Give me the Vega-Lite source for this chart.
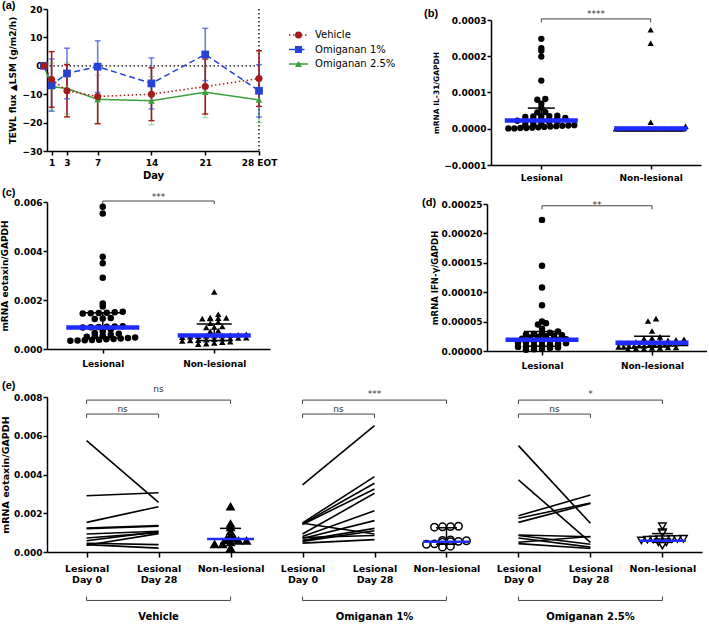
{
 "$schema": "https://vega.github.io/schema/vega-lite/v6.json",
 "padding": 0,
 "background": "white",
 "spacing": 9,
 "resolve": {"scale": {"shape": "independent", "fill": "independent", "stroke": "independent", "color": "independent", "opacity": "independent", "strokeDash": "independent"}},
 "config": {
  "view": {"stroke": null},
  "axis": {"grid": false, "domainColor": "black", "domainWidth": 1.5, "tickColor": "black", "tickWidth": 1.5, "tickSize": 4, "labelFont": "DejaVu Sans", "labelFontWeight": "bold", "labelFontSize": 9, "labelColor": "black", "titleFont": "DejaVu Sans", "titleFontWeight": "bold", "titleColor": "black", "labelOverlap": false, "labelFlush": false, "tickCount": 20},
  "title": {"font": "Liberation Sans", "fontSize": 11, "fontWeight": "bold", "color": "black", "anchor": "start", "frame": "group"},
  "text": {"font": "DejaVu Sans"}
 },
 "datasets": {
  "tewl": [
   {"grp":"Omiganan 1%","day":0,"mean":0,"lo":0,"hi":0},
   {"grp":"Omiganan 1%","day":1,"mean":-6.8,"lo":-16.0,"hi":2.4},
   {"grp":"Omiganan 1%","day":3,"mean":-2.7,"lo":-11.6,"hi":6.2},
   {"grp":"Omiganan 1%","day":7,"mean":-0.3,"lo":-9.4,"hi":8.8},
   {"grp":"Omiganan 1%","day":14,"mean":-6.2,"lo":-15.2,"hi":2.8},
   {"grp":"Omiganan 1%","day":21,"mean":4.0,"lo":-5.2,"hi":13.2},
   {"grp":"Omiganan 1%","day":28,"mean":-8.8,"lo":-18.0,"hi":0.4},
   {"grp":"Omiganan 2.5%","day":0,"mean":0,"lo":0,"hi":0},
   {"grp":"Omiganan 2.5%","day":1,"mean":-7.3,"lo":-15.6,"hi":1.0},
   {"grp":"Omiganan 2.5%","day":3,"mean":-8.0,"lo":-17.0,"hi":1.0},
   {"grp":"Omiganan 2.5%","day":7,"mean":-11.8,"lo":-20.3,"hi":-3.3},
   {"grp":"Omiganan 2.5%","day":14,"mean":-12.3,"lo":-20.8,"hi":-3.8},
   {"grp":"Omiganan 2.5%","day":21,"mean":-9.3,"lo":-18.2,"hi":-0.4},
   {"grp":"Omiganan 2.5%","day":28,"mean":-12.0,"lo":-20.0,"hi":-4.0},
   {"grp":"Vehicle","day":0,"mean":0,"lo":0,"hi":0},
   {"grp":"Vehicle","day":1,"mean":-4.8,"lo":-14.6,"hi":5.0},
   {"grp":"Vehicle","day":3,"mean":-8.8,"lo":-18.0,"hi":0.4},
   {"grp":"Vehicle","day":7,"mean":-10.8,"lo":-20.4,"hi":-1.2},
   {"grp":"Vehicle","day":14,"mean":-10.0,"lo":-19.3,"hi":-0.7},
   {"grp":"Vehicle","day":21,"mean":-7.3,"lo":-17.0,"hi":2.4},
   {"grp":"Vehicle","day":28,"mean":-4.5,"lo":-14.3,"hi":5.3}
  ],
  "il31": [
   {"g":"Lesional","v":0.000248},{"g":"Lesional","v":0.000222},{"g":"Lesional","v":0.000215},{"g":"Lesional","v":0.000199},{"g":"Lesional","v":0.000133},
   {"g":"Lesional","v":0.000082},{"g":"Lesional","v":0.00008},{"g":"Lesional","v":0.000069},{"g":"Lesional","v":0.000058},{"g":"Lesional","v":0.000046},
   {"g":"Lesional","v":0.000045},{"g":"Lesional","v":0.000036},{"g":"Lesional","v":0.000035},{"g":"Lesional","v":0.000034},{"g":"Lesional","v":0.000033},
   {"g":"Lesional","v":0.000034},{"g":"Lesional","v":0.00003},{"g":"Lesional","v":0.000028},{"g":"Lesional","v":0.000026},{"g":"Lesional","v":0.000025},
   {"g":"Lesional","v":0.000024},{"g":"Lesional","v":0.000023},{"g":"Lesional","v":0.000022},{"g":"Lesional","v":0.00002},{"g":"Lesional","v":0.000018},
   {"g":"Lesional","v":0.000016},{"g":"Lesional","v":0.000014},{"g":"Lesional","v":0.000012},{"g":"Lesional","v":0.00001},{"g":"Lesional","v":0.000009},
   {"g":"Lesional","v":0.000008},{"g":"Lesional","v":0.000007},{"g":"Lesional","v":0.000006},{"g":"Lesional","v":0.000005},{"g":"Lesional","v":0.000004},
   {"g":"Lesional","v":0.000003},{"g":"Lesional","v":0.000002},{"g":"Lesional","v":0.000002},{"g":"Lesional","v":0.000001},{"g":"Lesional","v":0.000001},
   {"g":"Non-lesional","v":0.000273},{"g":"Non-lesional","v":0.000236},{"g":"Non-lesional","v":0.000018},{"g":"Non-lesional","v":0.000007},
   {"g":"Non-lesional","v":0},{"g":"Non-lesional","v":0},{"g":"Non-lesional","v":0},{"g":"Non-lesional","v":0},{"g":"Non-lesional","v":0},
   {"g":"Non-lesional","v":0},{"g":"Non-lesional","v":0},{"g":"Non-lesional","v":0},{"g":"Non-lesional","v":0},{"g":"Non-lesional","v":0},
   {"g":"Non-lesional","v":0},{"g":"Non-lesional","v":0},{"g":"Non-lesional","v":0},{"g":"Non-lesional","v":0},{"g":"Non-lesional","v":0},
   {"g":"Non-lesional","v":0},{"g":"Non-lesional","v":0},{"g":"Non-lesional","v":0},{"g":"Non-lesional","v":0},{"g":"Non-lesional","v":0},
   {"g":"Non-lesional","v":0},{"g":"Non-lesional","v":0},{"g":"Non-lesional","v":0},{"g":"Non-lesional","v":0},{"g":"Non-lesional","v":0},
   {"g":"Non-lesional","v":0},{"g":"Non-lesional","v":0},{"g":"Non-lesional","v":0},{"g":"Non-lesional","v":0},{"g":"Non-lesional","v":0}
  ],
  "il31s": [
   {"g":"Lesional","med":0.000023,"lo":0.000006,"hi":0.000057},
   {"g":"Non-lesional","med":0.0000005,"lo":0,"hi":0.000001}
  ],
  "eot": [
   {"g":"Lesional","v":0.00581},{"g":"Lesional","v":0.00553},{"g":"Lesional","v":0.00377},{"g":"Lesional","v":0.0035},{"g":"Lesional","v":0.00291},
   {"g":"Lesional","v":0.00186},{"g":"Lesional","v":0.00173},{"g":"Lesional","v":0.00152},{"g":"Lesional","v":0.0015},{"g":"Lesional","v":0.00148},
   {"g":"Lesional","v":0.00147},{"g":"Lesional","v":0.00146},{"g":"Lesional","v":0.00145},{"g":"Lesional","v":0.00127},{"g":"Lesional","v":0.00125},
   {"g":"Lesional","v":0.00122},{"g":"Lesional","v":0.00093},{"g":"Lesional","v":0.00092},{"g":"Lesional","v":0.00091},{"g":"Lesional","v":0.0009},
   {"g":"Lesional","v":0.00089},{"g":"Lesional","v":0.00088},{"g":"Lesional","v":0.00079},{"g":"Lesional","v":0.00072},{"g":"Lesional","v":0.00065},
   {"g":"Lesional","v":0.00062},{"g":"Lesional","v":0.00058},{"g":"Lesional","v":0.00055},{"g":"Lesional","v":0.00052},{"g":"Lesional","v":0.0005},
   {"g":"Lesional","v":0.00047},{"g":"Lesional","v":0.00045},{"g":"Lesional","v":0.00043},{"g":"Lesional","v":0.00041},{"g":"Lesional","v":0.0004},
   {"g":"Lesional","v":0.00038},{"g":"Lesional","v":0.00037},{"g":"Lesional","v":0.00036},{"g":"Lesional","v":0.00035},{"g":"Lesional","v":0.00034},
   {"g":"Non-lesional","v":0.00233},{"g":"Non-lesional","v":0.00142},{"g":"Non-lesional","v":0.00128},{"g":"Non-lesional","v":0.00127},{"g":"Non-lesional","v":0.00126},
   {"g":"Non-lesional","v":0.00125},{"g":"Non-lesional","v":0.00124},{"g":"Non-lesional","v":0.0011},{"g":"Non-lesional","v":0.00105},{"g":"Non-lesional","v":0.00092},
   {"g":"Non-lesional","v":0.0009},{"g":"Non-lesional","v":0.00088},{"g":"Non-lesional","v":0.00075},{"g":"Non-lesional","v":0.00072},{"g":"Non-lesional","v":0.0006},
   {"g":"Non-lesional","v":0.00058},{"g":"Non-lesional","v":0.00056},{"g":"Non-lesional","v":0.00055},{"g":"Non-lesional","v":0.00054},{"g":"Non-lesional","v":0.00053},
   {"g":"Non-lesional","v":0.00052},{"g":"Non-lesional","v":0.0005},{"g":"Non-lesional","v":0.00048},{"g":"Non-lesional","v":0.00046},{"g":"Non-lesional","v":0.00045},
   {"g":"Non-lesional","v":0.00043},{"g":"Non-lesional","v":0.00042},{"g":"Non-lesional","v":0.0004},{"g":"Non-lesional","v":0.00038},{"g":"Non-lesional","v":0.00036},
   {"g":"Non-lesional","v":0.00035},{"g":"Non-lesional","v":0.00033},{"g":"Non-lesional","v":0.0003},{"g":"Non-lesional","v":0.00028},{"g":"Non-lesional","v":0.00025},
   {"g":"Non-lesional","v":0.00022},{"g":"Non-lesional","v":0.0002}
  ],
  "eots": [
   {"g":"Lesional","med":0.00088,"lo":0.00045,"hi":0.00148},
   {"g":"Non-lesional","med":0.00055,"lo":0.00035,"hi":0.00102}
  ],
  "ifn": [
   {"g":"Lesional","v":0.000223},{"g":"Lesional","v":0.000145},{"g":"Lesional","v":0.000108},{"g":"Lesional","v":0.000078},{"g":"Lesional","v":0.00005},
   {"g":"Lesional","v":0.000047},{"g":"Lesional","v":0.000045},{"g":"Lesional","v":0.000038},{"g":"Lesional","v":0.000033},{"g":"Lesional","v":0.000031},
   {"g":"Lesional","v":0.00003},{"g":"Lesional","v":0.000029},{"g":"Lesional","v":0.000028},{"g":"Lesional","v":0.000027},{"g":"Lesional","v":0.000026},
   {"g":"Lesional","v":0.000025},{"g":"Lesional","v":0.000024},{"g":"Lesional","v":0.000023},{"g":"Lesional","v":0.000021},{"g":"Lesional","v":0.00002},
   {"g":"Lesional","v":0.000019},{"g":"Lesional","v":0.000018},{"g":"Lesional","v":0.000017},{"g":"Lesional","v":0.000016},{"g":"Lesional","v":0.000015},
   {"g":"Lesional","v":0.000014},{"g":"Lesional","v":0.000013},{"g":"Lesional","v":0.000012},{"g":"Lesional","v":0.000011},{"g":"Lesional","v":0.00001},
   {"g":"Lesional","v":0.000009},{"g":"Lesional","v":0.000008},{"g":"Lesional","v":0.000007},{"g":"Lesional","v":0.000006},{"g":"Lesional","v":0.000005},
   {"g":"Lesional","v":0.000004},{"g":"Lesional","v":0.000003},{"g":"Lesional","v":0.000002},
   {"g":"Non-lesional","v":0.000055},{"g":"Non-lesional","v":0.000051},{"g":"Non-lesional","v":0.000034},{"g":"Non-lesional","v":0.000024},{"g":"Non-lesional","v":0.000022},
   {"g":"Non-lesional","v":0.000021},{"g":"Non-lesional","v":0.00002},{"g":"Non-lesional","v":0.000019},{"g":"Non-lesional","v":0.000018},{"g":"Non-lesional","v":0.000017},
   {"g":"Non-lesional","v":0.000016},{"g":"Non-lesional","v":0.000015},{"g":"Non-lesional","v":0.000015},{"g":"Non-lesional","v":0.000014},{"g":"Non-lesional","v":0.000014},
   {"g":"Non-lesional","v":0.000013},{"g":"Non-lesional","v":0.000013},{"g":"Non-lesional","v":0.000012},{"g":"Non-lesional","v":0.000012},{"g":"Non-lesional","v":0.000011},
   {"g":"Non-lesional","v":0.000011},{"g":"Non-lesional","v":0.00001},{"g":"Non-lesional","v":0.00001},{"g":"Non-lesional","v":0.000009},{"g":"Non-lesional","v":0.000009},
   {"g":"Non-lesional","v":0.000008},{"g":"Non-lesional","v":0.000008},{"g":"Non-lesional","v":0.000007},{"g":"Non-lesional","v":0.000007},{"g":"Non-lesional","v":0.000006},
   {"g":"Non-lesional","v":0.000006},{"g":"Non-lesional","v":0.000005},{"g":"Non-lesional","v":0.000005},{"g":"Non-lesional","v":0.000004},{"g":"Non-lesional","v":0.000004},
   {"g":"Non-lesional","v":0.000003}
  ],
  "ifns": [
   {"g":"Lesional","med":0.000019,"lo":0.000008,"hi":0.000033},
   {"g":"Non-lesional","med":0.000014,"lo":0.000007,"hi":0.000025}
  ],
  "elines": [
   {"pid":"v1","pos":"V0","v":0.00575},{"pid":"v1","pos":"V28","v":0.00256},
   {"pid":"v2","pos":"V0","v":0.0029},{"pid":"v2","pos":"V28","v":0.00306},
   {"pid":"v3","pos":"V0","v":0.00153},{"pid":"v3","pos":"V28","v":0.00234},
   {"pid":"v4","pos":"V0","v":0.00124},{"pid":"v4","pos":"V28","v":0.00136},
   {"pid":"v5","pos":"V0","v":0.0012},{"pid":"v5","pos":"V28","v":0.00133},
   {"pid":"v6","pos":"V0","v":0.00093},{"pid":"v6","pos":"V28","v":0.00107},
   {"pid":"v7","pos":"V0","v":0.00072},{"pid":"v7","pos":"V28","v":0.001},
   {"pid":"v8","pos":"V0","v":0.00058},{"pid":"v8","pos":"V28","v":0.00105},
   {"pid":"v9","pos":"V0","v":0.00045},{"pid":"v9","pos":"V28","v":0.00038},
   {"pid":"v10","pos":"V0","v":0.00038},{"pid":"v10","pos":"V28","v":0.0002},
   {"pid":"v11","pos":"V0","v":0.00035},{"pid":"v11","pos":"V28","v":0.00095},
   {"pid":"a1","pos":"O10","v":0.00346},{"pid":"a1","pos":"O128","v":0.00652},
   {"pid":"a2","pos":"O10","v":0.0015},{"pid":"a2","pos":"O128","v":0.00389},
   {"pid":"a3","pos":"O10","v":0.00145},{"pid":"a3","pos":"O128","v":0.00355},
   {"pid":"a4","pos":"O10","v":0.00142},{"pid":"a4","pos":"O128","v":0.00325},
   {"pid":"a5","pos":"O10","v":0.00093},{"pid":"a5","pos":"O128","v":0.00303},
   {"pid":"a6","pos":"O10","v":0.0008},{"pid":"a6","pos":"O128","v":0.00213},
   {"pid":"a7","pos":"O10","v":0.0007},{"pid":"a7","pos":"O128","v":0.00162},
   {"pid":"a8","pos":"O10","v":0.00148},{"pid":"a8","pos":"O128","v":0.00093},
   {"pid":"a9","pos":"O10","v":0.0006},{"pid":"a9","pos":"O128","v":0.00122},
   {"pid":"a10","pos":"O10","v":0.00055},{"pid":"a10","pos":"O128","v":0.0011},
   {"pid":"a11","pos":"O10","v":0.00046},{"pid":"a11","pos":"O128","v":0.00064},
   {"pid":"a12","pos":"O10","v":0.00075},{"pid":"a12","pos":"O128","v":0.00085},
   {"pid":"b1","pos":"O20","v":0.00549},{"pid":"b1","pos":"O228","v":0.00148},
   {"pid":"b2","pos":"O20","v":0.00372},{"pid":"b2","pos":"O228","v":0.0005},
   {"pid":"b3","pos":"O20","v":0.00187},{"pid":"b3","pos":"O228","v":0.00294},
   {"pid":"b4","pos":"O20","v":0.00174},{"pid":"b4","pos":"O228","v":0.00253},
   {"pid":"b5","pos":"O20","v":0.00153},{"pid":"b5","pos":"O228","v":0.0025},
   {"pid":"b6","pos":"O20","v":0.00088},{"pid":"b6","pos":"O228","v":0.00079},
   {"pid":"b7","pos":"O20","v":0.00085},{"pid":"b7","pos":"O228","v":0.0004},
   {"pid":"b8","pos":"O20","v":0.00072},{"pid":"b8","pos":"O228","v":0.00025},
   {"pid":"b9","pos":"O20","v":0.0005},{"pid":"b9","pos":"O228","v":0.0008},
   {"pid":"b10","pos":"O20","v":0.00043},{"pid":"b10","pos":"O228","v":0.00018}
  ],
  "enl": [
   {"pos":"VN","v":0.00234},{"pos":"VN","v":0.00145},{"pos":"VN","v":0.00127},{"pos":"VN","v":0.00105},{"pos":"VN","v":0.00084},
   {"pos":"VN","v":0.0007},{"pos":"VN","v":0.00067},{"pos":"VN","v":0.00058},{"pos":"VN","v":0.00058},{"pos":"VN","v":0.0005},
   {"pos":"VN","v":0.0004},{"pos":"VN","v":0.0004},{"pos":"VN","v":0.0002},
   {"pos":"O1N","v":0.00133},{"pos":"O1N","v":0.00131},{"pos":"O1N","v":0.0013},{"pos":"O1N","v":0.00128},{"pos":"O1N","v":0.00062},
   {"pos":"O1N","v":0.0006},{"pos":"O1N","v":0.00058},{"pos":"O1N","v":0.00055},{"pos":"O1N","v":0.00053},{"pos":"O1N","v":0.0005},
   {"pos":"O1N","v":0.00042},{"pos":"O1N","v":0.0004},{"pos":"O1N","v":0.0003},{"pos":"O1N","v":0.00025},
   {"pos":"O2N","v":0.00133},{"pos":"O2N","v":0.00102},{"pos":"O2N","v":0.00097},{"pos":"O2N","v":0.00068},{"pos":"O2N","v":0.00067},
   {"pos":"O2N","v":0.00067},{"pos":"O2N","v":0.00066},{"pos":"O2N","v":0.00066},{"pos":"O2N","v":0.00065},{"pos":"O2N","v":0.00064},
   {"pos":"O2N","v":0.0006},{"pos":"O2N","v":0.0005},{"pos":"O2N","v":0.0005},{"pos":"O2N","v":0.00033}
  ],
  "enls": [
   {"pos":"VN","med":0.00067,"lo":0.00045,"hi":0.00122},
   {"pos":"O1N","med":0.00053,"lo":0.0004,"hi":0.00125},
   {"pos":"O2N","med":0.00058,"lo":0.0005,"hi":0.00095}
  ],
  "sigOuter": [
   {"from":"V0","to":"VN","mid":"V28","label":"ns"},
   {"from":"O10","to":"O1N","mid":"O128","label":"***"},
   {"from":"O20","to":"O2N","mid":"O228","label":"*"}
  ],
  "sigInner": [
   {"from":"V0","to":"V28","label":"ns"},
   {"from":"O10","to":"O128","label":"ns"},
   {"from":"O20","to":"O228","label":"ns"}
  ],
  "groups": [
   {"from":"V0","to":"VN","mid":"V28","label":"Vehicle"},
   {"from":"O10","to":"O1N","mid":"O128","label":"Omiganan 1%"},
   {"from":"O20","to":"O2N","mid":"O228","label":"Omiganan 2.5%"}
  ]
 },
 "vconcat": [
  {"spacing": 5,
   "resolve": {"scale": {"shape": "independent", "fill": "independent", "stroke": "independent", "color": "independent", "opacity": "independent", "strokeDash": "independent"}},
   "vconcat": [
   {"bounds": "flush", "spacing": 232,
    "resolve": {"scale": {"shape": "independent", "fill": "independent", "stroke": "independent", "color": "independent", "opacity": "independent", "strokeDash": "independent"}},
    "hconcat": [
    {
     "width": 212, "height": 142,
     "title": {"text": "(a)", "dx": -45, "offset": -6},
     "resolve": {"scale": {"x": "independent", "y": "independent"}},
     "layer": [
      {"layer": [
      {"data": {"values": [{}]}, "mark": {"type": "rule", "strokeDash": [1.5, 2.5], "color": "black", "strokeWidth": 1.3},
       "encoding": {"y": {"datum": 0, "type": "quantitative", "scale": {"domain": [-30, 20], "nice": false}}}},
      {"data": {"values": [{}]}, "mark": {"type": "rule", "strokeDash": [1.5, 2.5], "color": "black", "strokeWidth": 1.3},
       "encoding": {"x": {"datum": 28, "type": "quantitative", "scale": {"domain": [0.4, 28], "nice": false, "zero": false}}}},
      {"data": {"name": "tewl"}, "transform": [{"filter": "datum.day > 0"}], "mark": {"type": "rule", "strokeWidth": 1.6},
       "encoding": {
        "x": {"field": "day", "type": "quantitative", "title": "Day", "scale": {"domain": [0.4, 28], "nice": false, "zero": false}, "axis": {"values": [1,3,7,14,21,28], "tickCount": 20, "labelExpr": "datum.value == 28 ? '28 EOT' : datum.label", "title": "Day", "titleFontSize": 10, "labelPadding": 3, "titlePadding": 3, "labelOverlap": false, "labelFlush": false}},
        "y": {"field": "lo", "type": "quantitative", "title": "TEWL flux ▲LSM (g/m2/h)", "scale": {"domain": [-30, 20], "nice": false}, "axis": {"values": [-30,-20,-10,0,10,20], "tickCount": 20, "title": "TEWL flux ▲LSM (g/m2/h)", "titleFontSize": 9, "labelPadding": 1, "titlePadding": 4, "labelOverlap": false, "labelFlush": false}},
        "y2": {"field": "hi"},
        "color": {"field": "grp", "type": "nominal", "legend": null, "scale": {"domain": ["Vehicle","Omiganan 1%","Omiganan 2.5%"], "range": ["#a31c1c","#2643d6","#3b9f3b"]}},
        "opacity": {"field": "grp", "type": "nominal", "legend": null, "scale": {"domain": ["Vehicle","Omiganan 1%","Omiganan 2.5%"], "range": [1, 0.35, 0.35]}}
       }},
      {"data": {"name": "tewl"}, "transform": [{"filter": "datum.day > 0"}, {"fold": ["lo", "hi"], "as": ["end", "val"]}],
       "mark": {"type": "tick", "size": 6, "thickness": 1.4, "orient": "horizontal", "opacity": 1},
       "encoding": {
        "x": {"field": "day", "type": "quantitative", "title": "Day"},
        "y": {"field": "val", "type": "quantitative", "title": "TEWL flux ▲LSM (g/m2/h)"},
        "color": {"field": "grp", "type": "nominal", "legend": null},
        "opacity": {"field": "grp", "type": "nominal", "legend": null}
       }},
      {"data": {"name": "tewl"}, "mark": {"type": "line", "strokeWidth": 1.5},
       "encoding": {
        "x": {"field": "day", "type": "quantitative", "title": "Day"},
        "y": {"field": "mean", "type": "quantitative", "title": "TEWL flux ▲LSM (g/m2/h)"},
        "color": {"field": "grp", "type": "nominal", "legend": null},
        "strokeDash": {"field": "grp", "type": "nominal", "legend": null, "scale": {"domain": ["Vehicle","Omiganan 1%","Omiganan 2.5%"], "range": [[1.5, 2.5], [6, 3.5], [1, 0]]}},
        "order": {"field": "day", "type": "quantitative"}
       }},
      {"data": {"name": "tewl"}, "transform": [{"filter": "datum.grp == 'Omiganan 2.5%'"}],
       "mark": {"type": "point", "shape": "triangle-up", "filled": true, "size": 45, "opacity": 1, "color": "#3b9f3b"},
       "encoding": {"x": {"field": "day", "type": "quantitative", "title": "Day"}, "y": {"field": "mean", "type": "quantitative", "title": "TEWL flux ▲LSM (g/m2/h)"}}},
      {"data": {"name": "tewl"}, "transform": [{"filter": "datum.grp == 'Omiganan 1%'"}],
       "mark": {"type": "point", "shape": "square", "filled": true, "size": 60, "opacity": 1, "color": "#2643d6"},
       "encoding": {"x": {"field": "day", "type": "quantitative", "title": "Day"}, "y": {"field": "mean", "type": "quantitative", "title": "TEWL flux ▲LSM (g/m2/h)"}}},
      {"data": {"name": "tewl"}, "transform": [{"filter": "datum.grp == 'Vehicle'"}],
       "mark": {"type": "point", "shape": "circle", "filled": true, "size": 50, "opacity": 1, "color": "#a31c1c"},
       "encoding": {"x": {"field": "day", "type": "quantitative", "title": "Day"}, "y": {"field": "mean", "type": "quantitative", "title": "TEWL flux ▲LSM (g/m2/h)"}}}
      ]},
      {"data": {"name": "tewl"}, "transform": [{"filter": "datum.day == 0"}],
       "layer": [
        {"mark": {"type": "rule", "strokeWidth": 1.5},
         "encoding": {
          "x": {"datum": 0, "type": "quantitative", "scale": {"domain": [0, 1], "range": [242, 261]}, "axis": null},
          "x2": {"datum": 1},
          "y": {"field": "grp", "type": "nominal", "scale": {"type": "point", "domain": ["Vehicle","Omiganan 1%","Omiganan 2.5%"], "range": [26, 55], "padding": 0}, "axis": null},
          "color": {"field": "grp", "type": "nominal", "legend": null},
          "strokeDash": {"field": "grp", "type": "nominal", "legend": null}
         }},
        {"mark": {"type": "point", "filled": true, "opacity": 1, "size": 50},
         "encoding": {
          "x": {"datum": 0.5, "type": "quantitative"},
          "y": {"field": "grp", "type": "nominal"},
          "color": {"field": "grp", "type": "nominal", "legend": null},
          "shape": {"field": "grp", "type": "nominal", "legend": null, "scale": {"domain": ["Vehicle","Omiganan 1%","Omiganan 2.5%"], "range": ["circle","square","triangle-up"]}}
         }},
        {"mark": {"type": "text", "align": "left", "baseline": "middle", "font": "DejaVu Sans", "fontSize": 10, "color": "black"},
         "encoding": {
          "x": {"datum": 1.37, "type": "quantitative"},
          "y": {"field": "grp", "type": "nominal"},
          "text": {"field": "grp"}
         }}
       ]}
     ]
    },
    {
     "width": 210, "height": 156,
     "title": {"text": "(b)", "dx": -67, "offset": -10},
     "layer": [
      {"data": {"name": "il31"},
       "transform": [
        {"bin": {"step": 0.000011}, "field": "v", "as": "vb"},
        {"window": [{"op": "row_number", "as": "r"}], "groupby": ["g", "vb"], "sort": [{"field": "v", "order": "ascending"}]},
        {"joinaggregate": [{"op": "count", "as": "n"}], "groupby": ["g", "vb"]},
        {"calculate": "(datum.r - (datum.n + 1) / 2) * min(1, 9 / datum.n)", "as": "off"}
       ],
       "mark": {"type": "point", "filled": true, "opacity": 1, "color": "black", "size": 40},
       "encoding": {
        "x": {"field": "g", "type": "nominal", "title": null, "scale": {"type": "point", "domain": ["Lesional","Non-lesional"], "padding": 0.46}, "axis": {"labelFontSize": 9, "labelPadding": 4, "labelAngle": 0, "labelOverlap": false}},
        "xOffset": {"field": "off", "type": "quantitative", "scale": {"domain": [-10, 10], "range": [-80, 80]}},
        "y": {"field": "v", "type": "quantitative", "title": "mRNA IL-31/GAPDH", "scale": {"domain": [-0.0001, 0.0003], "nice": false, "zero": false, "range": [156, 11]}, "axis": {"values": [-0.0001, 0, 0.0001, 0.0002, 0.0003], "tickCount": 20, "format": ".4f", "title": "mRNA IL-31/GAPDH", "titleFontSize": 7.5, "titlePadding": 3, "labelPadding": 1, "labelOverlap": false, "labelFlush": false}},
        "shape": {"field": "g", "type": "nominal", "legend": null, "scale": {"domain": ["Lesional","Non-lesional"], "range": ["circle","triangle-up"]}}
       }},
      {"data": {"name": "il31s"}, "mark": {"type": "rule", "color": "black", "strokeWidth": 1.5},
       "encoding": {"x": {"field": "g", "type": "nominal", "title": null}, "y": {"field": "lo", "type": "quantitative", "title": "mRNA IL-31/GAPDH"}, "y2": {"field": "hi"}}},
      {"data": {"name": "il31s"}, "transform": [{"fold": ["lo", "hi"], "as": ["end", "val"]}], "mark": {"type": "tick", "color": "black", "thickness": 1.5, "size": 27, "opacity": 1, "orient": "horizontal"},
       "encoding": {"x": {"field": "g", "type": "nominal", "title": null}, "y": {"field": "val", "type": "quantitative", "title": "mRNA IL-31/GAPDH"}}},
      {"data": {"name": "il31s"}, "mark": {"type": "tick", "color": "#1f2bff", "thickness": 4.5, "size": 73, "opacity": 1, "orient": "horizontal"},
       "encoding": {"x": {"field": "g", "type": "nominal", "title": null}, "y": {"field": "med", "type": "quantitative", "title": "mRNA IL-31/GAPDH"}}},
      {"data": {"values": [{}]}, "mark": {"type": "rule", "color": "#444", "strokeWidth": 1},
       "encoding": {"x": {"datum": "Lesional", "type": "nominal"}, "x2": {"datum": "Non-lesional"}, "y": {"datum": 0.000303, "type": "quantitative"}}},
      {"data": {"values": [{"g": "Lesional"}, {"g": "Non-lesional"}]}, "mark": {"type": "rule", "color": "#444", "strokeWidth": 1},
       "encoding": {"x": {"field": "g", "type": "nominal", "title": null}, "y": {"datum": 0.000303, "type": "quantitative"}, "y2": {"datum": 0.000293}}},
      {"data": {"values": [{}]}, "mark": {"type": "text", "text": "****", "dx": 54.7, "fontSize": 9, "baseline": "alphabetic", "color": "#333"},
       "encoding": {"x": {"datum": "Lesional", "type": "nominal"}, "y": {"datum": 0.000307, "type": "quantitative"}}}
     ]
    }
   ]},
   {"bounds": "flush", "spacing": 217,
    "resolve": {"scale": {"shape": "independent", "fill": "independent", "stroke": "independent", "color": "independent", "opacity": "independent", "strokeDash": "independent"}},
    "hconcat": [
    {
     "width": 223, "height": 149,
     "title": {"text": "(c)", "dx": -45, "offset": -5},
     "layer": [
      {"data": {"name": "eot"},
       "transform": [
        {"bin": {"step": 0.00016}, "field": "v", "as": "vb"},
        {"window": [{"op": "row_number", "as": "r"}], "groupby": ["g", "vb"], "sort": [{"field": "v", "order": "ascending"}]},
        {"joinaggregate": [{"op": "count", "as": "n"}], "groupby": ["g", "vb"]},
        {"calculate": "(datum.r - (datum.n + 1) / 2) * min(1, 9 / datum.n)", "as": "off"}
       ],
       "mark": {"type": "point", "filled": true, "opacity": 1, "color": "black", "size": 42},
       "encoding": {
        "x": {"field": "g", "type": "nominal", "title": null, "scale": {"type": "point", "domain": ["Lesional","Non-lesional"], "padding": 0.5}, "axis": {"labelFontSize": 9, "labelPadding": 6, "labelAngle": 0, "labelOverlap": false}},
        "xOffset": {"field": "off", "type": "quantitative", "scale": {"domain": [-10, 10], "range": [-80, 80]}},
        "y": {"field": "v", "type": "quantitative", "title": "mRNA eotaxin/GAPDH", "scale": {"domain": [0, 0.006], "nice": false, "range": [149, 2]}, "axis": {"values": [0, 0.002, 0.004, 0.006], "tickCount": 20, "format": ".3f", "title": "mRNA eotaxin/GAPDH", "titleFontSize": 9, "titlePadding": 4, "labelPadding": 1, "labelOverlap": false, "labelFlush": false}},
        "shape": {"field": "g", "type": "nominal", "legend": null, "scale": {"domain": ["Lesional","Non-lesional"], "range": ["circle","triangle-up"]}}
       }},
      {"data": {"name": "eots"}, "mark": {"type": "rule", "color": "black", "strokeWidth": 1.5},
       "encoding": {"x": {"field": "g", "type": "nominal", "title": null}, "y": {"field": "lo", "type": "quantitative", "title": "mRNA eotaxin/GAPDH"}, "y2": {"field": "hi"}}},
      {"data": {"name": "eots"}, "transform": [{"fold": ["lo", "hi"], "as": ["end", "val"]}], "mark": {"type": "tick", "color": "black", "thickness": 1.5, "size": 35, "opacity": 1, "orient": "horizontal"},
       "encoding": {"x": {"field": "g", "type": "nominal", "title": null}, "y": {"field": "val", "type": "quantitative", "title": "mRNA eotaxin/GAPDH"}}},
      {"data": {"name": "eots"}, "mark": {"type": "tick", "color": "#1f2bff", "thickness": 4.5, "size": 73, "opacity": 1, "orient": "horizontal"},
       "encoding": {"x": {"field": "g", "type": "nominal", "title": null}, "y": {"field": "med", "type": "quantitative", "title": "mRNA eotaxin/GAPDH"}}},
      {"data": {"values": [{}]}, "mark": {"type": "rule", "color": "#444", "strokeWidth": 1},
       "encoding": {"x": {"datum": "Lesional", "type": "nominal"}, "x2": {"datum": "Non-lesional"}, "y": {"datum": 0.00604, "type": "quantitative"}}},
      {"data": {"values": [{"g": "Lesional"}, {"g": "Non-lesional"}]}, "mark": {"type": "rule", "color": "#444", "strokeWidth": 1},
       "encoding": {"x": {"field": "g", "type": "nominal", "title": null}, "y": {"datum": 0.00604, "type": "quantitative"}, "y2": {"datum": 0.00592}}},
      {"data": {"values": [{}]}, "mark": {"type": "text", "text": "***", "dx": 55.7, "fontSize": 9, "baseline": "alphabetic", "color": "#333"},
       "encoding": {"x": {"datum": "Lesional", "type": "nominal"}, "y": {"datum": 0.00608, "type": "quantitative"}}}
     ]
    },
    {
     "width": 220, "height": 151,
     "title": {"text": "(d)", "dx": -65, "offset": -8},
     "layer": [
      {"data": {"name": "ifn"},
       "transform": [
        {"bin": {"step": 0.000007}, "field": "v", "as": "vb"},
        {"window": [{"op": "row_number", "as": "r"}], "groupby": ["g", "vb"], "sort": [{"field": "v", "order": "ascending"}]},
        {"joinaggregate": [{"op": "count", "as": "n"}], "groupby": ["g", "vb"]},
        {"calculate": "(datum.r - (datum.n + 1) / 2) * min(1, 9 / datum.n)", "as": "off"}
       ],
       "mark": {"type": "point", "filled": true, "opacity": 1, "color": "black", "size": 42},
       "encoding": {
        "x": {"field": "g", "type": "nominal", "title": null, "scale": {"type": "point", "domain": ["Lesional","Non-lesional"], "padding": 0.5}, "axis": {"labelFontSize": 9, "labelPadding": 6, "labelAngle": 0, "labelOverlap": false}},
        "xOffset": {"field": "off", "type": "quantitative", "scale": {"domain": [-10, 10], "range": [-80, 80]}},
        "y": {"field": "v", "type": "quantitative", "title": "mRNA IFN-γ/GAPDH", "scale": {"domain": [0, 0.00025], "nice": false, "range": [151, 4]}, "axis": {"values": [0, 0.00005, 0.0001, 0.00015, 0.0002, 0.00025], "tickCount": 20, "format": ".5f", "title": "mRNA IFN-γ/GAPDH", "titleFontSize": 8.5, "titlePadding": 2, "labelPadding": 1, "labelOverlap": false, "labelFlush": false}},
        "shape": {"field": "g", "type": "nominal", "legend": null, "scale": {"domain": ["Lesional","Non-lesional"], "range": ["circle","triangle-up"]}}
       }},
      {"data": {"name": "ifns"}, "mark": {"type": "rule", "color": "black", "strokeWidth": 1.5},
       "encoding": {"x": {"field": "g", "type": "nominal", "title": null}, "y": {"field": "lo", "type": "quantitative", "title": "mRNA IFN-γ/GAPDH"}, "y2": {"field": "hi"}}},
      {"data": {"name": "ifns"}, "transform": [{"fold": ["lo", "hi"], "as": ["end", "val"]}], "mark": {"type": "tick", "color": "black", "thickness": 1.5, "size": 36, "opacity": 1, "orient": "horizontal"},
       "encoding": {"x": {"field": "g", "type": "nominal", "title": null}, "y": {"field": "val", "type": "quantitative", "title": "mRNA IFN-γ/GAPDH"}}},
      {"data": {"name": "ifns"}, "mark": {"type": "tick", "color": "#1f2bff", "thickness": 4.5, "size": 73, "opacity": 1, "orient": "horizontal"},
       "encoding": {"x": {"field": "g", "type": "nominal", "title": null}, "y": {"field": "med", "type": "quantitative", "title": "mRNA IFN-γ/GAPDH"}}},
      {"data": {"values": [{}]}, "mark": {"type": "rule", "color": "#444", "strokeWidth": 1},
       "encoding": {"x": {"datum": "Lesional", "type": "nominal"}, "x2": {"datum": "Non-lesional"}, "y": {"datum": 0.000247, "type": "quantitative"}}},
      {"data": {"values": [{"g": "Lesional"}, {"g": "Non-lesional"}]}, "mark": {"type": "rule", "color": "#444", "strokeWidth": 1},
       "encoding": {"x": {"field": "g", "type": "nominal", "title": null}, "y": {"datum": 0.000247, "type": "quantitative"}, "y2": {"datum": 0.000241}}},
      {"data": {"values": [{}]}, "mark": {"type": "text", "text": "**", "dx": 55, "fontSize": 9, "baseline": "alphabetic", "color": "#333"},
       "encoding": {"x": {"datum": "Lesional", "type": "nominal"}, "y": {"datum": 0.000244, "type": "quantitative"}}}
     ]
    }
   ]}
  ]},
  {
   "width": 655, "height": 155,
   "title": {"text": "(e)", "dx": -45, "offset": -6},
   "layer": [
    {"data": {"name": "elines"}, "mark": {"type": "line", "color": "black", "strokeWidth": 1.6},
     "encoding": {
      "x": {"field": "pos", "type": "nominal", "title": null, "scale": {"type": "point", "domain": ["V0","V28","VN","O10","O128","O1N","O20","O228","O2N"], "padding": 0.55},
       "axis": {"labelExpr": "indexof(['V0','O10','O20'], datum.value) >= 0 ? ['Lesional', 'Day 0'] : indexof(['V28','O128','O228'], datum.value) >= 0 ? ['Lesional', 'Day 28'] : 'Non-lesional'", "labelFontSize": 9.5, "labelLineHeight": 11, "labelPadding": 6, "tickSize": 5, "labelAngle": 0, "labelOverlap": false}},
      "y": {"field": "v", "type": "quantitative", "title": "mRNA eotaxin/GAPDH", "scale": {"domain": [0, 0.008], "nice": false}, "axis": {"values": [0, 0.002, 0.004, 0.006, 0.008], "tickCount": 20, "format": ".3f", "title": "mRNA eotaxin/GAPDH", "titleFontSize": 9.5, "titlePadding": 3, "labelPadding": 1, "labelOverlap": false, "labelFlush": false}},
      "detail": {"field": "pid"}
     }},
    {"data": {"name": "enl"},
     "transform": [
      {"bin": {"step": 0.0002}, "field": "v", "as": "vb"},
      {"window": [{"op": "row_number", "as": "r"}], "groupby": ["pos", "vb"], "sort": [{"field": "v", "order": "ascending"}]},
      {"joinaggregate": [{"op": "count", "as": "n"}], "groupby": ["pos", "vb"]},
      {"calculate": "(datum.r - (datum.n + 1) / 2) * min(1, 6 / datum.n)", "as": "off"}
     ],
     "mark": {"type": "point", "filled": true, "opacity": 1, "stroke": "black", "strokeWidth": 1.5, "size": 55},
     "encoding": {
      "x": {"field": "pos", "type": "nominal", "title": null},
      "xOffset": {"field": "off", "type": "quantitative", "scale": {"domain": [-10, 10], "range": [-90, 90]}},
      "y": {"field": "v", "type": "quantitative", "title": "mRNA eotaxin/GAPDH"},
      "shape": {"field": "pos", "type": "nominal", "legend": null, "scale": {"domain": ["VN","O1N","O2N"], "range": ["triangle-up","circle","triangle-down"]}},
      "fill": {"field": "pos", "type": "nominal", "legend": null, "scale": {"domain": ["VN","O1N","O2N"], "range": ["black","white","white"]}}
     }},
    {"data": {"name": "enls"}, "mark": {"type": "rule", "color": "black", "strokeWidth": 1.5},
     "encoding": {"x": {"field": "pos", "type": "nominal", "title": null}, "y": {"field": "lo", "type": "quantitative", "title": "mRNA eotaxin/GAPDH"}, "y2": {"field": "hi"}}},
    {"data": {"name": "enls"}, "transform": [{"fold": ["lo", "hi"], "as": ["end", "val"]}], "mark": {"type": "tick", "color": "black", "thickness": 1.5, "size": 21, "opacity": 1, "orient": "horizontal"},
     "encoding": {"x": {"field": "pos", "type": "nominal", "title": null}, "y": {"field": "val", "type": "quantitative", "title": "mRNA eotaxin/GAPDH"}}},
    {"data": {"name": "enls"}, "mark": {"type": "tick", "color": "#1f2bff", "thickness": 2.5, "size": 47, "opacity": 1, "orient": "horizontal"},
     "encoding": {"x": {"field": "pos", "type": "nominal", "title": null}, "y": {"field": "med", "type": "quantitative", "title": "mRNA eotaxin/GAPDH"}}},
    {"data": {"name": "sigOuter"}, "mark": {"type": "rule", "color": "#444", "strokeWidth": 1},
     "encoding": {"x": {"field": "from", "type": "nominal", "title": null}, "x2": {"field": "to"}, "y": {"datum": 0.00784, "type": "quantitative"}}},
    {"data": {"name": "sigOuter"}, "transform": [{"fold": ["from", "to"], "as": ["end", "at"]}], "mark": {"type": "rule", "color": "#444", "strokeWidth": 1},
     "encoding": {"x": {"field": "at", "type": "nominal", "title": null}, "y": {"datum": 0.00784, "type": "quantitative"}, "y2": {"datum": 0.00764}}},
    {"data": {"name": "sigOuter"}, "transform": [{"filter": "datum.label == 'ns'"}], "mark": {"type": "text", "fontSize": 9, "baseline": "alphabetic", "color": "#333"},
     "encoding": {"x": {"field": "mid", "type": "nominal", "title": null}, "y": {"datum": 0.00828, "type": "quantitative"}, "text": {"field": "label"}}},
    {"data": {"name": "sigOuter"}, "transform": [{"filter": "datum.label != 'ns'"}], "mark": {"type": "text", "fontSize": 9, "baseline": "alphabetic", "color": "#333"},
     "encoding": {"x": {"field": "mid", "type": "nominal", "title": null}, "y": {"datum": 0.0080, "type": "quantitative"}, "text": {"field": "label"}}},
    {"data": {"name": "sigInner"}, "mark": {"type": "rule", "color": "#444", "strokeWidth": 1},
     "encoding": {"x": {"field": "from", "type": "nominal", "title": null}, "x2": {"field": "to"}, "y": {"datum": 0.00712, "type": "quantitative"}}},
    {"data": {"name": "sigInner"}, "transform": [{"fold": ["from", "to"], "as": ["end", "at"]}], "mark": {"type": "rule", "color": "#444", "strokeWidth": 1},
     "encoding": {"x": {"field": "at", "type": "nominal", "title": null}, "y": {"datum": 0.00712, "type": "quantitative"}, "y2": {"datum": 0.00692}}},
    {"data": {"name": "sigInner"}, "mark": {"type": "text", "fontSize": 9, "baseline": "alphabetic", "color": "#333", "dx": 36},
     "encoding": {"x": {"field": "from", "type": "nominal", "title": null}, "y": {"datum": 0.00725, "type": "quantitative"}, "text": {"field": "label"}}},
    {"data": {"name": "groups"}, "mark": {"type": "rule", "color": "#444", "strokeWidth": 1},
     "encoding": {"x": {"field": "from", "type": "nominal", "title": null}, "x2": {"field": "to"}, "y": {"datum": -0.0025, "type": "quantitative"}}},
    {"data": {"name": "groups"}, "transform": [{"fold": ["from", "to"], "as": ["end", "at"]}], "mark": {"type": "rule", "color": "#444", "strokeWidth": 1},
     "encoding": {"x": {"field": "at", "type": "nominal", "title": null}, "y": {"datum": -0.0025, "type": "quantitative"}, "y2": {"datum": -0.0023}}},
    {"data": {"name": "groups"}, "mark": {"type": "text", "fontSize": 10, "fontWeight": "bold", "baseline": "alphabetic", "color": "black"},
     "encoding": {"x": {"field": "mid", "type": "nominal", "title": null}, "y": {"datum": -0.0035, "type": "quantitative"}, "text": {"field": "label"}}}
   ]
  }
 ]
}
